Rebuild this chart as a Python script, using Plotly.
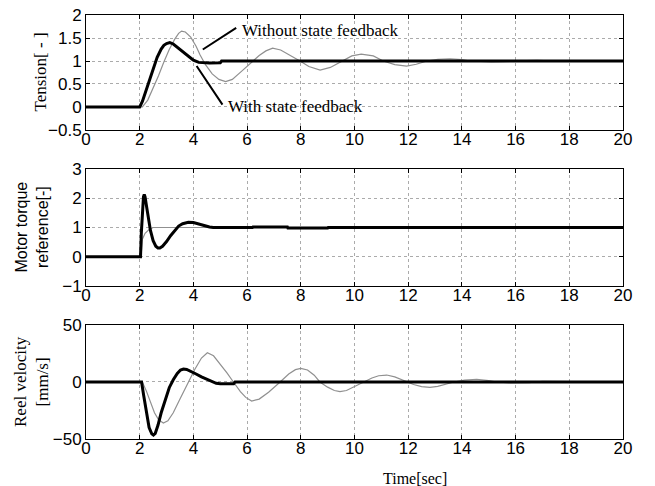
import plotly.graph_objects as go

# ---------------- data ----------------
# Panel 1: Tension [-]
t_ten_fb = [0, 2.0, 2.1, 2.2, 2.35, 2.5, 2.65, 2.8, 2.9, 3.0, 3.12, 3.25, 3.4, 3.6, 3.8,
            4.0, 4.2, 4.4, 4.6, 5.0, 5.05, 20]
v_ten_fb = [0, 0, 0.12, 0.3, 0.58, 0.85, 1.08, 1.26, 1.34, 1.38, 1.40, 1.37, 1.30, 1.20, 1.10,
            1.02, 0.97, 0.955, 0.955, 0.96, 1.0, 1.0]

t_ten_nofb = [0, 2.1, 2.3, 2.5, 2.7, 2.9, 3.1, 3.3, 3.45, 3.56, 3.7, 3.9, 4.1, 4.25, 4.45,
              4.7, 4.95, 5.2, 5.45, 5.8, 6.0, 6.23, 6.45, 6.7, 6.95, 7.25, 7.6, 7.97, 8.3,
              8.72, 9.1, 9.52, 9.9, 10.25, 10.7, 11.07, 11.5, 11.94, 12.3, 12.7, 13.1, 13.56,
              14.0, 14.3, 14.7, 15.1, 15.5, 15.9, 16.4, 16.8, 17.2, 17.6, 20]
v_ten_nofb = [0, 0, 0.15, 0.4, 0.68, 0.98, 1.25, 1.47, 1.6, 1.65, 1.63, 1.52, 1.32, 1.13, 0.92,
              0.72, 0.6, 0.55, 0.6, 0.78, 0.88, 1.0, 1.12, 1.22, 1.28, 1.24, 1.13, 1.0, 0.88,
              0.8, 0.86, 1.0, 1.11, 1.15, 1.11, 1.0, 0.92, 0.89, 0.93, 1.0, 1.035, 1.045,
              1.03, 1.0, 0.985, 0.98, 0.985, 1.0, 1.01, 1.012, 1.005, 1.0, 1.0]

# Panel 2: Motor torque reference [-]
t_trq_fb = [0, 2.03, 2.06, 2.1, 2.14, 2.17, 2.2, 2.25, 2.32, 2.4, 2.5, 2.6, 2.68, 2.75, 2.85,
            3.0, 3.15, 3.3, 3.45, 3.6, 3.81, 4.0, 4.2, 4.4, 4.6, 4.74, 6.2, 6.22, 7.5, 7.52,
            9.0, 9.02, 20]
v_trq_fb = [0, 0, 0.8, 1.6, 2.05, 2.13, 2.05, 1.75, 1.3, 0.9, 0.55, 0.36, 0.3, 0.3, 0.36,
            0.52, 0.72, 0.9, 1.05, 1.13, 1.18, 1.17, 1.13, 1.07, 1.02, 1.0, 1.0, 1.02, 1.02, 0.98,
            0.98, 1.0, 1.0]

t_trq_nofb = [0, 2.05, 2.1, 2.2, 2.35, 2.5, 2.8, 20]
v_trq_nofb = [0, 0, 0.6, 0.8, 0.93, 1.0, 1.0, 1.0]

# Panel 3: Reel velocity [mm/s]
t_vel_fb = [0, 2.07, 2.15, 2.25, 2.35, 2.45, 2.51, 2.58, 2.68, 2.8, 2.95, 3.1, 3.25, 3.4,
            3.52, 3.63, 3.75, 3.9, 4.1, 4.3, 4.5, 4.7, 4.85, 5.0, 5.5, 5.55, 20]
v_vel_fb = [0, 0, -12, -28, -40, -45.5, -46.5, -45, -38, -27, -15, -5, 2, 7.5,
            10.5, 11.4, 11, 9.5, 7, 4.5, 2.2, 0.3, -1.2, -1.5, -1.5, 0, 0]

t_vel_nofb = [0, 2.1, 2.25, 2.4, 2.55, 2.7, 2.88, 3.05, 3.25, 3.5, 3.81, 4.05, 4.3, 4.52,
              4.75, 5.0, 5.25, 5.49, 5.75, 5.95, 6.17, 6.45, 6.8, 7.23, 7.55, 7.8, 8.0, 8.25,
              8.5, 8.71, 9.0, 9.25, 9.46, 9.7, 10.0, 10.33, 10.65, 10.9, 11.2, 11.5, 11.75,
              11.94, 12.2, 12.5, 12.81, 13.1, 13.4, 13.7, 14.1, 14.55, 15.0, 15.3, 15.8,
              16.5, 17.0, 18.0, 20]
v_vel_nofb = [0, 0, -8, -18, -27, -33, -36, -34, -27, -15, 0, 11, 21, 25.7,
              23, 16, 8, 0, -8.5, -13.5, -16.7, -15, -9, 0, 7, 10.8, 12, 10.5,
              6, 0, -4.5, -7.5, -8.5, -7.5, -4, 0, 3.5, 5.5, 6.1, 4.5, 2,
              0, -2.2, -4, -4.7, -3.8, -2, 0, 1.6, 2.4, 1.2, 0, -0.8,
              -0.5, 0.5, 0.3, 0]

x_ticks = [0, 2, 4, 6, 8, 10, 12, 14, 16, 18, 20]
y1_ticks = [-0.5, 0, 0.5, 1, 1.5, 2]
y2_ticks = [-1, 0, 1, 2, 3]
y3_ticks = [-50, 0, 50]

# ---------------- figure ----------------
THIN = dict(color="#909090", width=1.2)
THICK = dict(color="black", width=3)

fig = go.Figure()
fig.add_trace(go.Scatter(x=t_ten_nofb, y=v_ten_nofb, mode="lines", line=THIN, xaxis="x", yaxis="y"))
fig.add_trace(go.Scatter(x=t_ten_fb, y=v_ten_fb, mode="lines", line=THICK, xaxis="x", yaxis="y"))
fig.add_trace(go.Scatter(x=t_trq_nofb, y=v_trq_nofb, mode="lines", line=THIN, xaxis="x2", yaxis="y2"))
fig.add_trace(go.Scatter(x=t_trq_fb, y=v_trq_fb, mode="lines", line=THICK, xaxis="x2", yaxis="y2"))
fig.add_trace(go.Scatter(x=t_vel_nofb, y=v_vel_nofb, mode="lines", line=THIN, xaxis="x3", yaxis="y3"))
fig.add_trace(go.Scatter(x=t_vel_fb, y=v_vel_fb, mode="lines", line=THICK, xaxis="x3", yaxis="y3"))

TICKFONT = dict(family="Liberation Sans, Arial", size=17, color="black")
common_ax = dict(showline=True, linecolor="black", linewidth=1, mirror="ticks",
                 ticks="inside", ticklen=4, tickcolor="black", automargin=False,
                 ticklabeloverflow="allow",
                 showgrid=True, gridcolor="#ababab", gridwidth=1, griddash="dot",
                 zeroline=False, tickfont=TICKFONT)

doms = [(0.7288, 1.0), (0.3608, 0.6368), (0.0, 0.2689)]
yranges = [(-0.5, 2), (-1, 3), (-50, 50)]
yticks = [y1_ticks, y2_ticks, y3_ticks]
layout = {}
for i in range(3):
    sx = "" if i == 0 else str(i + 1)
    layout["xaxis" + sx] = dict(common_ax, domain=[0, 1], range=[0, 20], tickvals=x_ticks,
                                anchor="y" + sx, ticklabelstandoff=-6)
    layout["yaxis" + sx] = dict(common_ax, domain=list(doms[i]), range=list(yranges[i]),
                                tickvals=yticks[i], anchor="x" + sx)

SERIF = "Liberation Serif, Times New Roman, serif"
annotations = [
    # axis titles
    dict(text="Tension[ - ]", xref="paper", yref="paper", x=0, y=(doms[0][0] + doms[0][1]) / 2,
         xanchor="center", yanchor="middle", xshift=-46, textangle=-90, showarrow=False,
         font=dict(family=SERIF, size=17, color="black")),
    dict(text="Motor torque<br>reference[-]", xref="paper", yref="paper", x=0,
         y=(doms[1][0] + doms[1][1]) / 2, xanchor="center", yanchor="middle", xshift=-54,
         textangle=-90, showarrow=False,
         font=dict(family="Liberation Sans, Arial", size=16, color="black")),
    dict(text="Reel velocity<br>[mm/s]", xref="paper", yref="paper", x=0,
         y=(doms[2][0] + doms[2][1]) / 2, xanchor="center", yanchor="middle", xshift=-54,
         textangle=-90, showarrow=False,
         font=dict(family=SERIF, size=17, color="black")),
    dict(text="Time[sec]", xref="paper", yref="paper", x=0.613, y=0, xanchor="center",
         yanchor="middle", yshift=-39, showarrow=False,
         font=dict(family=SERIF, size=16, color="black")),
    # curve labels
    dict(text="Without state feedback", xref="x", yref="y", x=5.75, y=1.67, xanchor="left",
         yanchor="middle", showarrow=False, font=dict(family=SERIF, size=17, color="black")),
    dict(x=4.35, y=1.25, ax=5.65, ay=1.74, xref="x", yref="y", axref="x", ayref="y",
         text="", showarrow=True, arrowhead=0, arrowwidth=2, arrowcolor="black",
         standoff=0, startstandoff=0),
    dict(text="With state feedback", xref="x", yref="y", x=5.2, y=0.0, xanchor="left",
         yanchor="middle", showarrow=False, font=dict(family=SERIF, size=17, color="black")),
    dict(x=4.12, y=0.89, ax=5.12, ay=0.02, xref="x", yref="y", axref="x", ayref="y",
         text="", showarrow=True, arrowhead=0, arrowwidth=2, arrowcolor="black",
         standoff=0, startstandoff=0),
]

fig.update_layout(
    width=655, height=486,
    margin=dict(l=86, r=32, t=15, b=47, autoexpand=False),
    paper_bgcolor="white", plot_bgcolor="white",
    showlegend=False,
    hovermode=False,
    annotations=annotations,
    **layout,
)

# remove the browser's default 8 px body margin so the figure fills the window
fig.write_html("out.html", config={"displayModeBar": False},
               post_script="document.body.style.margin='0px';")
